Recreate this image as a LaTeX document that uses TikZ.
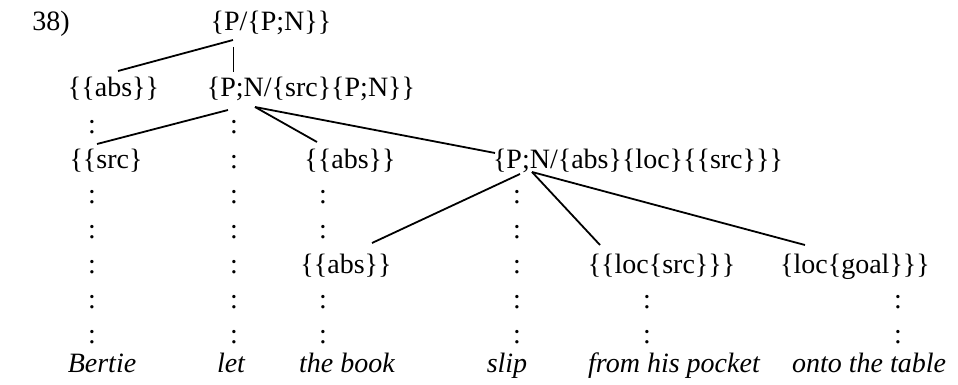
\documentclass[tikz,border=0pt]{standalone}
\usepackage{fontspec}
\setmainfont{Liberation Serif}
\usetikzlibrary{calc}
\tikzset{
  txt/.style={inner sep=0pt, anchor=base, font=\fontsize{28}{34}\selectfont},
  wrd/.style={txt, font=\fontsize{28}{34}\selectfont\itshape},
  br/.style={line width=1.8pt},
  thinbr/.style={line width=0.9pt}
}
\begin{document}
\begin{tikzpicture}[x=1pt,y=-1pt]
\useasboundingbox (0,0) rectangle (958,385);
% labels
\node[txt] (num) at (51,31) {38)};
\node[txt] (T) at (271,31) {\{P/\{P;N\}\}};
\node[txt] (A1) at (113.5,97) {\{\{abs\}\}};
\node[txt] (PN1) at (311,97) {\{P;N/\{src\}\{P;N\}\}};
\node[txt] (S2) at (106,168) {\{\{src\}};
\node[txt] (A2) at (350,168) {\{\{abs\}\}};
\node[txt] (PN2) at (638,168) {\{P;N/\{abs\}\{loc\}\{\{src\}\}\}};
\node[txt] (A4) at (346,273) {\{\{abs\}\}};
\node[txt] (LS) at (661.5,273) {\{\{loc\{src\}\}\}};
\node[txt] (LG) at (855,273) {\{loc\{goal\}\}\}};
% words
\node[wrd] (w1) at (102,372) {Bertie};
\node[wrd] (w2) at (231,372) {let};
\node[wrd] (w3) at (347,372) {the book};
\node[wrd] (w4) at (507,372) {slip};
\node[wrd] (w5) at (674,372) {from his pocket};
\node[wrd] (w6) at (869,372) {onto the table};
% colon columns
\foreach \y [count=\i] in {134,203,238,273,308,343} {
  \node[txt] (ca\i) at (92,\y) {:};
}
\foreach \y [count=\i] in {134,168,203,238,273,308,343} {
  \node[txt] (cb\i) at (234,\y) {:};
}
\foreach \y [count=\i] in {203,238,308,343} {
  \node[txt] (cc\i) at (323,\y) {:};
}
\foreach \y [count=\i] in {203,238,273,308,343} {
  \node[txt] (cd\i) at (517,\y) {:};
}
\foreach \y [count=\i] in {308,343} {
  \node[txt] (ce\i) at (647,\y) {:};
  \node[txt] (cf\i) at (898,\y) {:};
}
% connectors
\draw[br] ($(T.base)+(-38,9)$) -- ($(A1.base)+(4.5,-26)$);
\draw[thinbr] ($(T.base)+(-38,16)$) -- ($(PN1.base)+(-78,-25)$);
\draw[br] ($(PN1.base)+(-83,13)$) -- ($(S2.base)+(-9,-24)$);
\draw[br] ($(PN1.base)+(-56,10)$) -- ($(A2.base)+(-33,-26)$);
\draw[br] ($(PN1.base)+(-56,10)$) -- ($(PN2.base)+(-143,-15)$);
\draw[br] ($(PN2.base)+(-118,6)$) -- ($(A4.base)+(26,-30)$);
\draw[br] ($(PN2.base)+(-106,4)$) -- ($(LS.base)+(-61.5,-28)$);
\draw[br] ($(PN2.base)+(-106,4)$) -- ($(LG.base)+(-50,-28)$);
\end{tikzpicture}
\end{document}
